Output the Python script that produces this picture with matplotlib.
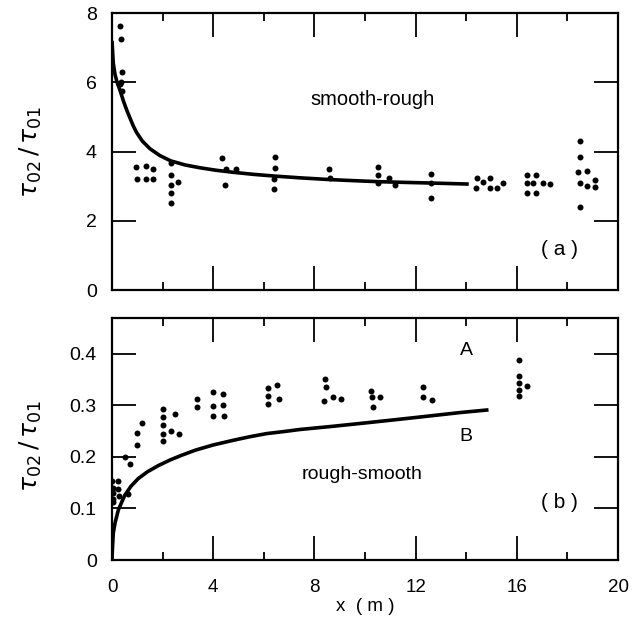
import matplotlib
matplotlib.use("Agg")
import matplotlib.pyplot as plt
from matplotlib.ticker import MultipleLocator

plt.rcParams['font.family'] = ['Liberation Sans', 'DejaVu Sans']

# (a) smooth-rough: measured stress ratio
xa = [0.32, 0.36, 0.38, 0.36, 0.30, 0.38,
      0.94, 0.97, 1.34, 1.34, 1.63, 1.61,
      2.32, 2.32, 2.32, 2.32, 2.32, 2.62,
      4.35, 4.50, 4.90, 4.45,
      6.44, 6.44, 6.40, 6.40,
      8.59, 8.62,
      10.50, 10.50, 10.50, 10.96, 11.19,
      12.61, 12.61, 12.61,
      14.41, 14.39, 14.65, 14.94, 14.94, 15.20, 15.44,
      16.39, 16.76, 16.39, 16.65, 17.02, 17.31, 16.39, 16.76,
      18.50, 18.50, 18.43, 18.79, 18.50, 18.79, 19.09, 19.09, 18.50]
ya = [7.63, 7.25, 6.29, 6.02, 5.95, 5.75,
      3.55, 3.21, 3.57, 3.21, 3.50, 3.21,
      3.68, 3.33, 3.03, 2.79, 2.50, 3.11,
      3.80, 3.50, 3.50, 3.03,
      3.85, 3.52, 3.21, 2.91,
      3.50, 3.23,
      3.56, 3.32, 3.08, 3.23, 3.03,
      3.34, 3.10, 2.65,
      3.23, 2.94, 3.12, 3.23, 2.94, 2.94, 3.08,
      3.32, 3.32, 3.08, 3.08, 3.08, 3.06, 2.81, 2.81,
      4.31, 3.84, 3.40, 3.45, 3.08, 2.99, 3.18, 2.97, 2.41]

# (a) model curve
xa_fit = [0.0, 0.05, 0.12, 0.20, 0.32, 0.45, 0.58, 0.72, 0.84, 0.97, 1.2, 1.5,
          1.9, 2.32, 2.9, 3.48, 4.1, 4.79, 5.6, 6.44, 7.43, 8.6, 9.5, 10.5,
          11.5, 12.6, 14.1]
ya_fit = [7.20, 6.55, 6.22, 6.00, 5.76, 5.46, 5.20, 4.95, 4.74, 4.55, 4.30, 4.08,
          3.88, 3.73, 3.61, 3.53, 3.46, 3.40, 3.34, 3.29, 3.24, 3.19, 3.16, 3.13,
          3.11, 3.09, 3.06]

# (b) rough-smooth: measured stress ratio
xb = [0.01, 0.23, 0.02, 0.25, 0.02, 0.28, 0.03, 0.02, 0.62,
      0.51, 0.71, 0.97, 0.97, 1.19,
      2.00, 2.03, 2.00, 2.00, 2.03, 2.50, 2.33, 2.66,
      3.34, 3.34, 4.00, 4.00, 4.00, 4.38, 4.38, 4.42,
      6.18, 6.53, 6.18, 6.18, 6.60,
      8.42, 8.46, 8.39, 8.75, 9.05,
      10.22, 10.26, 10.59, 10.30,
      12.30, 12.30, 12.63,
      16.09, 16.09, 16.09, 16.39, 16.09, 16.09]
yb = [0.153, 0.153, 0.140, 0.138, 0.129, 0.125, 0.118, 0.113, 0.128,
      0.200, 0.187, 0.247, 0.222, 0.266,
      0.292, 0.277, 0.261, 0.245, 0.230, 0.283, 0.250, 0.245,
      0.313, 0.296, 0.325, 0.298, 0.280, 0.321, 0.301, 0.279,
      0.334, 0.340, 0.317, 0.302, 0.312,
      0.351, 0.336, 0.308, 0.315, 0.312,
      0.328, 0.315, 0.315, 0.296,
      0.335, 0.315, 0.310,
      0.388, 0.357, 0.344, 0.338, 0.330, 0.317]

# (b) model curve
xb_fit = [0.0, 0.02, 0.05, 0.12, 0.25, 0.40, 0.51, 0.75, 1.04, 1.4, 1.83, 2.3,
          2.75, 3.3, 4.0, 4.79, 5.45, 6.11, 6.8, 7.43, 8.7, 10.07, 11.4, 12.7,
          13.8, 14.88]
yb_fit = [0.0, 0.025, 0.052, 0.072, 0.097, 0.114, 0.126, 0.143, 0.158, 0.171,
          0.183, 0.194, 0.203, 0.213, 0.223, 0.232, 0.239, 0.245, 0.249, 0.253,
          0.259, 0.266, 0.273, 0.280, 0.286, 0.291]

x_ticks = [0, 4, 8, 12, 16, 20]

fig = plt.figure(figsize=(6.35, 6.32), dpi=100)
ax1 = fig.add_axes([0.1764, 0.5411, 0.7969, 0.4383])
ax2 = fig.add_axes([0.1764, 0.1139, 0.7969, 0.3829])

for ax in (ax1, ax2):
    for s in ax.spines.values():
        s.set_linewidth(1.6)
    ax.set_xlim(0, 20)
    ax.xaxis.set_major_locator(MultipleLocator(4))
    ax.xaxis.set_minor_locator(MultipleLocator(2))
    ax.tick_params(which='both', direction='in', top=True, right=True, width=1.3)
    ax.tick_params(which='major', length=17)
    ax.tick_params(which='minor', length=6)
    ax.tick_params(axis='y', labelsize=14, pad=11)
    ax.tick_params(axis='x', labelsize=13.5, pad=14)

ax1.plot(xa_fit, ya_fit, color='black', lw=2.6, solid_capstyle='butt',
         solid_joinstyle='round')
ax1.plot(xa, ya, 'o', color='black', ms=4.3, mew=0)
ax1.set_ylim(0, 8)
ax1.yaxis.set_major_locator(MultipleLocator(2))
ax1.tick_params(labelbottom=False)
ax1.set_ylabel(r'$\tau_{02}\,/\,\tau_{01}$', fontsize=18)
ax1.yaxis.set_label_coords(-0.134, 0.5)
ax1.text(10.3, 5.49, 'smooth-rough', fontsize=14.5, ha='center', va='center')
ax1.text(17.7, 1.16, '( a )', fontsize=15, ha='center', va='center')

ax2.plot(xb_fit, yb_fit, color='black', lw=2.6, solid_capstyle='butt',
         solid_joinstyle='round')
ax2.plot(xb, yb, 'o', color='black', ms=4.3, mew=0)
ax2.set_ylim(0, 0.469)
ax2.set_yticks([0, 0.1, 0.2, 0.3, 0.4])
ax2.set_yticklabels(['0', '0.1', '0.2', '0.3', '0.4'])
ax2.set_xticks(x_ticks)
ax2.set_xticklabels([str(t) for t in x_ticks])
ax2.set_ylabel(r'$\tau_{02}\,/\,\tau_{01}$', fontsize=18)
ax2.yaxis.set_label_coords(-0.134, 0.47)
ax2.set_xlabel('x  ( m )', fontsize=13.5, labelpad=1)
ax2.text(14.0, 0.406, 'A', fontsize=14, ha='center', va='center')
ax2.text(14.0, 0.239, 'B', fontsize=14, ha='center', va='center')
ax2.text(9.9, 0.165, 'rough-smooth', fontsize=14, ha='center', va='center')
ax2.text(17.7, 0.112, '( b )', fontsize=15, ha='center', va='center')

fig.savefig('out.png', dpi=100)
